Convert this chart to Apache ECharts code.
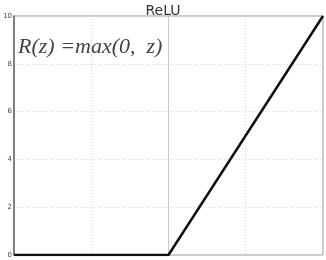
<!DOCTYPE html>
<html><head><meta charset="utf-8">
<script src="https://cdn.jsdelivr.net/npm/echarts@6/dist/echarts.min.js"></script>
<style>html,body{margin:0;padding:0;background:#fff}#c{width:326px;height:260px}</style>
</head><body><div id="c"></div>
<script>
const xValues = [-10, 0, 10];
const yValues = [0, 0, 10];
const yTicks = [0, 2, 4, 6, 8, 10];
const title = 'ReLU';
const formula = 'R(z) =max(0,  z)';

const chart = echarts.init(document.getElementById('c'), null, {renderer: 'canvas'});
chart.setOption({
  animation: false,
  backgroundColor: '#fff',
  title: {text: title, left: 'center', top: -1,
    textStyle: {fontFamily: 'DejaVu Sans', fontSize: 14, fontWeight: 'normal', color: '#333'}},
  grid: {left: 11, right: 3, top: 16, bottom: 5, show: true, borderColor: '#999', borderWidth: 1},
  xAxis: {type: 'value', min: -10, max: 10, interval: 5,
    axisLine: {show: false}, axisTick: {show: false}, axisLabel: {show: false},
    splitLine: {show: true, lineStyle: {color: '#d4d4d4', type: [1, 2], width: 1}}},
  yAxis: {type: 'value', min: 0, max: 10, interval: 2,
    axisLine: {show: true, onZero: false, lineStyle: {color: '#666', width: 1.5}},
    axisTick: {show: false},
    axisLabel: {show: true, fontSize: 7, color: '#444', margin: 2, fontFamily: 'DejaVu Sans',
      formatter: v => yTicks.includes(v) ? String(v) : ''},
    splitLine: {show: true, lineStyle: {color: '#d4d4d4', type: [1, 2], width: 1}}},
  graphic: [{type: 'text', left: 18, top: 36,
    style: {text: formula, font: 'italic 22px "Liberation Serif"', fill: '#444'}}],
  series: [{type: 'line', data: xValues.map((x, i) => [x, yValues[i]]),
    symbol: 'none', lineStyle: {color: '#111', width: 2.5}, z: 5,
    markLine: {silent: true, symbol: 'none', label: {show: false}, z: 1,
      lineStyle: {color: '#c8c8c8', type: 'solid', width: 1, opacity: 1},
      emphasis: {disabled: true},
      data: [{xAxis: 0}]}}]
});
</script></body></html>
